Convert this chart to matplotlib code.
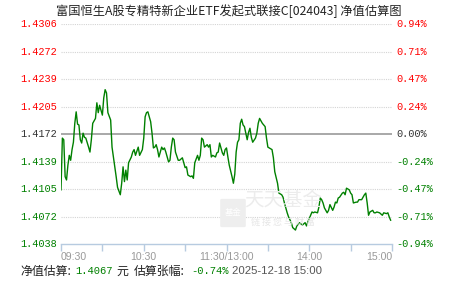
import numpy as np
import matplotlib
matplotlib.use("Agg")
import matplotlib.pyplot as plt
from matplotlib.patches import FancyBboxPatch

# minutes since 09:30 (11:30 and 13:00 share index 120), estimated NAV
minutes = [0, 1, 2, 3, 4, 5, 6, 7, 8, 9, 10, 11, 12, 13, 14, 15, 16, 17, 18, 20,
           21, 22, 23, 25, 26, 27, 28, 30, 31, 32, 33, 34, 36, 37, 38, 40, 41, 43, 44, 45,
           46, 47, 48, 49, 51, 52, 53, 54, 56, 57, 59, 60, 61, 62, 63, 65, 66, 67, 68, 69,
           70, 71, 73, 74, 75, 76, 78, 79, 80, 81, 82, 83, 85, 86, 88, 89, 90, 91, 92, 94,
           95, 96, 97, 99, 100, 101, 102, 103, 104, 106, 107, 108, 109, 110, 112, 113, 114, 115, 117, 118,
           119, 120, 121, 122, 124, 125, 126, 127, 128, 129, 130, 131, 132, 133, 134, 135, 136, 137, 138, 139,
           141, 142, 143, 144, 146, 147, 148, 149, 150, 151, 153, 154, 155, 157, 158, 160, 161, 162, 164, 165,
           167, 168, 170, 171, 173, 175, 177, 178, 179, 181, 182, 183, 184, 186, 187, 188, 189, 190, 191, 193,
           194, 195, 197, 198, 199, 200, 201, 202, 204, 205, 206, 207, 209, 210, 211, 212, 214, 215, 216, 218,
           219, 220, 221, 222, 223, 224, 226, 227, 228, 229, 231, 233, 234, 236, 237, 238, 239]
nav = [1.4104, 1.4167, 1.4165, 1.4120, 1.4116, 1.4134, 1.4146, 1.4140, 1.4153, 1.4162,
       1.4185, 1.4199, 1.4184, 1.4183, 1.4165, 1.4161, 1.4173, 1.4168, 1.4167, 1.4156,
       1.4150, 1.4165, 1.4185, 1.4191, 1.4210, 1.4198, 1.4207, 1.4195, 1.4216, 1.4226,
       1.4222, 1.4198, 1.4189, 1.4156, 1.4144, 1.4120, 1.4107, 1.4098, 1.4112, 1.4132,
       1.4114, 1.4128, 1.4116, 1.4137, 1.4144, 1.4150, 1.4153, 1.4146, 1.4156, 1.4146,
       1.4153, 1.4167, 1.4193, 1.4198, 1.4199, 1.4187, 1.4173, 1.4155, 1.4156, 1.4159,
       1.4153, 1.4144, 1.4156, 1.4153, 1.4155, 1.4150, 1.4138, 1.4140, 1.4156, 1.4167,
       1.4165, 1.4150, 1.4140, 1.4140, 1.4143, 1.4137, 1.4131, 1.4132, 1.4122, 1.4120,
       1.4121, 1.4118, 1.4137, 1.4146, 1.4140, 1.4146, 1.4167, 1.4165, 1.4156, 1.4159,
       1.4156, 1.4159, 1.4144, 1.4146, 1.4144, 1.4149, 1.4150, 1.4161, 1.4149, 1.4146,
       1.4153, 1.4155, 1.4144, 1.4134, 1.4120, 1.4112, 1.4123, 1.4150, 1.4162, 1.4165,
       1.4185, 1.4190, 1.4183, 1.4181, 1.4173, 1.4165, 1.4174, 1.4179, 1.4168, 1.4162,
       1.4167, 1.4173, 1.4185, 1.4191, 1.4185, 1.4183, 1.4181, 1.4167, 1.4156, 1.4155,
       1.4153, 1.4143, 1.4126, 1.4112, 1.4100, 1.4098, 1.4095, 1.4088, 1.4076, 1.4071,
       1.4064, 1.4058, 1.4055, 1.4060, 1.4064, 1.4061, 1.4064, 1.4060, 1.4065, 1.4073,
       1.4077, 1.4076, 1.4077, 1.4076, 1.4083, 1.4094, 1.4092, 1.4088, 1.4082, 1.4076,
       1.4079, 1.4086, 1.4079, 1.4083, 1.4089, 1.4088, 1.4094, 1.4095, 1.4100, 1.4101,
       1.4098, 1.4106, 1.4104, 1.4100, 1.4098, 1.4088, 1.4089, 1.4089, 1.4092, 1.4092,
       1.4095, 1.4098, 1.4100, 1.4088, 1.4073, 1.4077, 1.4079, 1.4076, 1.4076, 1.4077,
       1.4076, 1.4073, 1.4076, 1.4075, 1.4076, 1.4071, 1.4067]

left_labels = ["1.4306", "1.4272", "1.4239", "1.4205", "1.4172",
               "1.4139", "1.4105", "1.4072", "1.4038"]
right_labels = ["0.94%", "0.71%", "0.47%", "0.24%", "0.00%",
                "-0.24%", "-0.47%", "-0.71%", "-0.94%"]
time_ticks = [0, 60, 120, 180, 240]
time_labels = ["09:30", "10:30", "11:30/13:00", "14:00", "15:00"]

title = "富国恒生A股专精特新企业ETF发起式联接C[024043] 净值估算图"
est_nav = "1.4067"
est_chg = "-0.74%"
stamp = "2025-12-18 15:00"

RED = "#ff0000"
GREEN = "#008000"
GRAY = "#333333"
CJK = ["Noto Sans CJK SC", "DejaVu Sans"]
MONO = "Liberation Mono"

fig = plt.figure(figsize=(4.51, 2.81), dpi=100)
ax = fig.add_axes([61 / 451, 1 - 244 / 281, 331 / 451, 220 / 281])

hi = float(left_labels[0])
lo = float(left_labels[-1])
ax.set_xlim(0, 240)
ax.set_ylim(lo, hi)
levels = np.linspace(hi, lo, len(left_labels))

for i, lv in enumerate(levels):
    if i == 4:
        ax.axhline(lv, color="#999999", lw=1.2, zorder=1)
    elif i < 8:
        ax.axhline(lv, color="#d4d4d4", lw=0.8, ls=(0, (1, 1)), zorder=1)

ax.plot(minutes, nav, color=GREEN, lw=1.0, zorder=3)

for s in ["top", "left", "right"]:
    ax.spines[s].set_visible(False)
ax.spines["bottom"].set_color("#b7cbe0")
ax.spines["bottom"].set_linewidth(1.0)
ax.set_yticks([])
ax.set_xticks(range(0, 241, 30))
ax.set_xticklabels([])
ax.tick_params(axis="x", length=5, color="#b7cbe0", width=1)

# y labels on both sides
for i, lv in enumerate(levels):
    c = RED if i < 4 else (GRAY if i == 4 else GREEN)
    ax.text(-3, lv, left_labels[i], ha="right", va="center", color=c,
            fontsize=7.4, family=MONO, clip_on=False)
    ax.text(243, lv, right_labels[i], ha="left", va="center", color=c,
            fontsize=7.4, family=MONO, clip_on=False)

# time labels
aligns = ["left", "center", "center", "center", "right"]
for t, lab, a in zip(time_ticks, time_labels, aligns):
    ax.text(t, -0.06, lab, ha=a, va="center", color="#999999", fontsize=7.6,
            family="Liberation Sans", transform=ax.get_xaxis_transform(), clip_on=False)

# watermark
wm = FancyBboxPatch((222 / 451, 1 - 226 / 281), 22 / 451, 26 / 281,
                    boxstyle="round,pad=0.004", transform=fig.transFigure,
                    facecolor="#eeeeee", edgecolor="none", zorder=0)
fig.patches.append(wm)
fig.text(233 / 451, 1 - 213 / 281, "基金", ha="center", va="center", fontsize=6,
         color="white", family=CJK)
fig.text(283 / 451, 1 - 200 / 281, "天天基金", ha="center", va="center", fontsize=14,
         color="#ececec", family=CJK, zorder=0)
fig.text(283 / 451, 1 - 222 / 281, "链 接 您 与 财 富", ha="center", va="center", fontsize=6.5,
         color="#e6e6e6", family=CJK, zorder=0)

fig.text(229 / 451, 1 - 11 / 281, title, ha="center", va="center", fontsize=8.8,
         color="#222222", family=CJK)

# bottom info line
yb = 1 - 271 / 281
fig.text(20 / 451, yb, "净值估算:", ha="left", va="center", fontsize=8.6, color="#222222", family=CJK)
fig.text(75 / 451, yb, est_nav, ha="left", va="center", fontsize=7.6, color=GREEN, family=MONO)
fig.text(116 / 451, yb, "元", ha="left", va="center", fontsize=8.6, color="#222222", family=CJK)
fig.text(134 / 451, yb, "估算张幅:", ha="left", va="center", fontsize=8.6, color="#222222", family=CJK)
fig.text(191 / 451, yb, est_chg, ha="left", va="center", fontsize=7.6, color=GREEN, family=MONO)
fig.text(232 / 451, yb, stamp, ha="left", va="center", fontsize=8.2, color="#555555",
         family="Liberation Sans")

fig.savefig("out.png", dpi=100)
